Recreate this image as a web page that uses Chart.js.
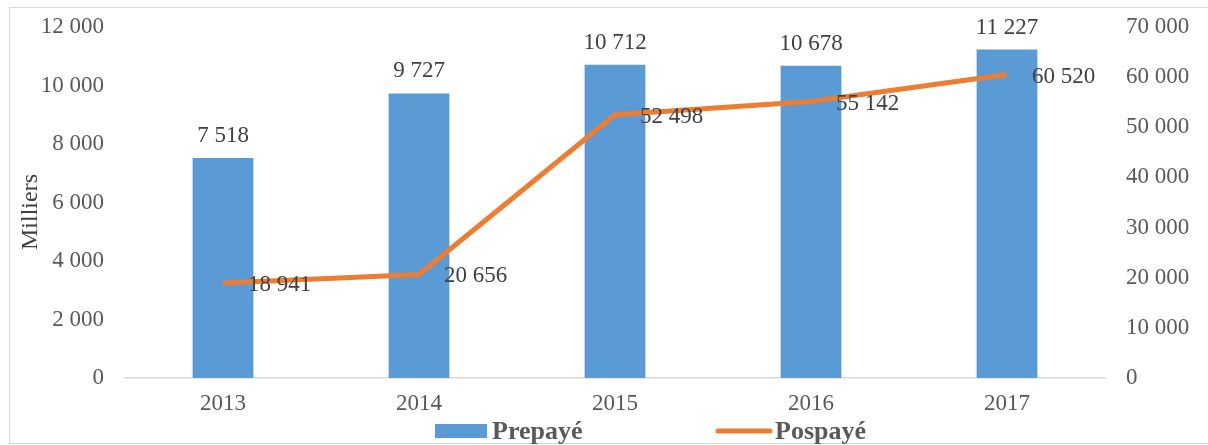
<!DOCTYPE html>
<html>
<head>
<meta charset="utf-8">
<script src="https://cdn.jsdelivr.net/npm/chart.js@4/dist/chart.umd.min.js"></script>
<style>
  body { margin: 0; background: #fff; }
  #wrap { position: relative; width: 1208px; height: 445px; }
</style>
</head>
<body>
<div id="wrap"><canvas id="chart" width="1208" height="445"></canvas></div>
<script>
const years = ['2013', '2014', '2015', '2016', '2017'];
const prepaye = [7518, 9727, 10712, 10678, 11227];
const pospaye = [18941, 20656, 52498, 55142, 60520];
const seriesNames = ['Prepayé', 'Pospayé'];
const leftTitle = 'Milliers';

const blue = '#5B9BD5';
const orange = '#ED7D31';
const serif = "'Liberation Serif', 'Times New Roman', serif";

function fmt(v) {
  return String(v).replace(/\B(?=(\d{3})+(?!\d))/g, ' ');
}

// value labels + frame + axis title + legend
const extras = {
  id: 'extras',
  afterDatasetsDraw(chart) {
    const ctx = chart.ctx;
    ctx.save();
    ctx.font = '23px ' + serif;
    ctx.fillStyle = '#404040';

    const bars = chart.getDatasetMeta(0).data;
    ctx.textAlign = 'center';
    ctx.textBaseline = 'alphabetic';
    bars.forEach((b, i) => {
      ctx.fillText(fmt(prepaye[i]), b.x, b.y - 16);
    });

    const pts = chart.getDatasetMeta(1).data;
    ctx.textAlign = 'left';
    ctx.textBaseline = 'middle';
    pts.forEach((p, i) => {
      ctx.fillText(fmt(pospaye[i]), p.x + 25, p.y + 2);
    });
    ctx.restore();
  },
  afterDraw(chart) {
    const ctx = chart.ctx;
    ctx.save();
    // outer frame
    ctx.strokeStyle = '#d9d9d9';
    ctx.lineWidth = 1;
    ctx.strokeRect(9.5, 7.5, 1300, 436);

    // y axis title
    ctx.save();
    ctx.translate(31, 212);
    ctx.rotate(-Math.PI / 2);
    ctx.font = '24px ' + serif;
    ctx.fillStyle = '#404040';
    ctx.textAlign = 'center';
    ctx.textBaseline = 'middle';
    ctx.fillText(leftTitle, 0, 0);
    ctx.restore();

    // legend
    ctx.font = 'bold 26px ' + serif;
    ctx.textBaseline = 'middle';
    ctx.textAlign = 'left';
    const ly = 431;
    ctx.fillStyle = blue;
    ctx.fillRect(435, 424, 52, 14);
    ctx.fillStyle = '#595959';
    ctx.fillText(seriesNames[0], 492, ly + 1);

    ctx.strokeStyle = orange;
    ctx.lineWidth = 5;
    ctx.lineCap = 'round';
    ctx.beginPath();
    ctx.moveTo(718, ly);
    ctx.lineTo(770, ly);
    ctx.stroke();
    ctx.fillText(seriesNames[1], 775, ly + 1);
    ctx.restore();
  }
};

function fixY(w) {
  return s => { s.width = w; s.paddingTop = 0; s.paddingBottom = 0; };
}

new Chart(document.getElementById('chart'), {
  data: {
    labels: years,
    datasets: [
      {
        type: 'bar',
        label: seriesNames[0],
        data: prepaye,
        backgroundColor: blue,
        yAxisID: 'y',
        barPercentage: 0.31,
        categoryPercentage: 1,
        order: 2
      },
      {
        type: 'line',
        label: seriesNames[1],
        data: pospaye,
        borderColor: orange,
        backgroundColor: orange,
        borderWidth: 5,
        pointRadius: 0,
        tension: 0,
        yAxisID: 'y2',
        order: 1
      }
    ]
  },
  options: {
    responsive: false,
    animation: false,
    layout: { padding: { top: 27, left: 0, right: 0, bottom: 0 } },
    plugins: {
      legend: { display: false },
      tooltip: { enabled: false }
    },
    scales: {
      x: {
        grid: { display: false, drawTicks: false },
        border: { display: true, color: '#d9d9d9', width: 1.5 },
        ticks: { color: '#595959', font: { family: serif, size: 23 }, padding: 12 },
        afterFit(s) { s.height = 67; }
      },
      y: {
        position: 'left',
        min: 0,
        max: 12000,
        grid: { display: false, drawTicks: false },
        border: { display: false },
        ticks: { stepSize: 2000, color: '#595959', font: { family: serif, size: 23 }, padding: 21, callback: v => fmt(v) },
        afterFit: fixY(125)
      },
      y2: {
        position: 'right',
        min: 0,
        max: 70000,
        grid: { display: false, drawTicks: false },
        border: { display: false },
        ticks: { stepSize: 10000, color: '#595959', font: { family: serif, size: 23 }, padding: 21, callback: v => fmt(v) },
        afterFit: fixY(103)
      }
    }
  },
  plugins: [extras]
});
</script>
</body>
</html>
